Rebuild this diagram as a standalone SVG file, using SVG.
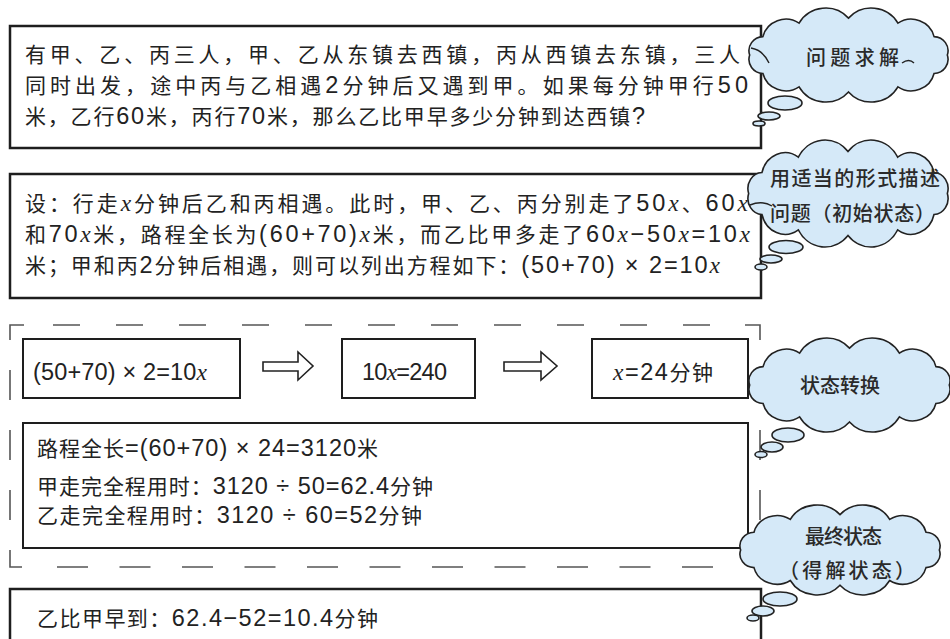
<svg xmlns="http://www.w3.org/2000/svg" width="950" height="639" viewBox="0 0 950 639">
<style>
.box{fill:#fff;stroke:#1e1e1e;stroke-width:2.5}
.ibox{fill:#fff;stroke:#1e1e1e;stroke-width:2}
.t{font-family:"Liberation Sans","Noto Sans CJK SC",sans-serif;font-size:21px;fill:#222}
.n{font-size:23.5px}
.x{font-family:"Liberation Serif",serif;font-style:italic;font-size:23.5px}
.cl{fill:#d5e9f8;stroke:#222;stroke-width:1.6}
.ct{font-family:"Noto Sans CJK SC",sans-serif;font-size:20px;font-weight:500;fill:#2a2a2a}
.dash{fill:none;stroke:#555;stroke-width:1.6}
.arr{fill:#fff;stroke:#222;stroke-width:1.6}
.hook{fill:none;stroke:#222;stroke-width:1.4}
</style>
<defs>
<path id="cloud" vector-effect="non-scaling-stroke" d="M12,45 A13,13 0 0 1 23.8,28 A21,21 0 0 1 56,15.6 A27,27 0 0 1 100,11 A27,27 0 0 1 144,15.6 A21,21 0 0 1 176.2,28 A13,13 0 0 1 188,45 A13,13 0 0 1 176.2,62 A21,21 0 0 1 144,74.4 A27,27 0 0 1 100,79 A27,27 0 0 1 56,74.4 A21,21 0 0 1 23.8,62 A13,13 0 0 1 12,45 Z"/>
</defs>
<rect width="950" height="639" fill="#fff"/>

<g id="problem">
<rect class="box" x="10" y="26" width="751" height="122"/>
<text class="t" x="25" y="62" textLength="715" lengthAdjust="spacing">有甲、乙、丙三人，甲、乙从东镇去西镇，丙从西镇去东镇，三人</text>
<text class="t" x="25" y="93" textLength="723" lengthAdjust="spacing">同时出发，途中丙与乙相遇<tspan class="n">2</tspan>分钟后又遇到甲。如果每分钟甲行<tspan class="n">50</tspan></text>
<text class="t" x="25" y="124" textLength="620" lengthAdjust="spacing">米，乙行<tspan class="n">60</tspan>米，丙行<tspan class="n">70</tspan>米，那么乙比甲早多少分钟到达西镇<tspan class="n">?</tspan></text>
</g>

<g id="setup">
<rect class="box" x="10" y="174" width="751" height="124"/>
<text class="t" x="25" y="210.5" textLength="723" lengthAdjust="spacing">设：行走<tspan class="x">x</tspan>分钟后乙和丙相遇。此时，甲、乙、丙分别走了<tspan class="n">50</tspan><tspan class="x">x</tspan>、<tspan class="n">60</tspan><tspan class="x">x</tspan></text>
<text class="t" x="25" y="242" textLength="725" lengthAdjust="spacing">和<tspan class="n">70</tspan><tspan class="x">x</tspan>米，路程全长为<tspan class="n">(60+70)</tspan><tspan class="x">x</tspan>米，而乙比甲多走了<tspan class="n">60</tspan><tspan class="x">x</tspan><tspan class="n">−50</tspan><tspan class="x">x</tspan><tspan class="n">=10</tspan><tspan class="x">x</tspan></text>
<text class="t" x="25" y="273" textLength="695" lengthAdjust="spacing">米；甲和丙<tspan class="n">2</tspan>分钟后相遇，则可以列出方程如下：<tspan class="n">(50+70) × 2=10</tspan><tspan class="x">x</tspan></text>
</g>

<g id="frame">
<path class="dash" d="M10,340 V325 H24"/>
<line class="dash" x1="53" y1="325" x2="745" y2="325" stroke-dasharray="27 36"/>
<path class="dash" d="M745,325 H760 V340"/>
<line class="dash" x1="10" y1="370" x2="10" y2="555" stroke-dasharray="30 30"/>
<path class="dash" d="M10,555 V567 H22"/>
<line class="dash" x1="57" y1="567" x2="740" y2="567" stroke-dasharray="31 31.5"/>
<line class="dash" x1="760" y1="370" x2="760" y2="530" stroke-dasharray="30 30"/>
</g>

<g id="eq1">
<rect class="ibox" x="23" y="339" width="217" height="59"/>
<text class="t" x="33" y="379.5" textLength="174" lengthAdjust="spacing"><tspan class="n">(50+70) × 2=10</tspan><tspan class="x">x</tspan></text>
</g>
<g id="eq2">
<rect class="ibox" x="342" y="339" width="133" height="59"/>
<text class="t" x="362" y="379.5" textLength="85" lengthAdjust="spacing"><tspan class="n">10</tspan><tspan class="x">x</tspan><tspan class="n">=240</tspan></text>
</g>
<g id="eq3">
<rect class="ibox" x="592" y="339" width="156" height="59"/>
<text class="t" x="613" y="379.5" textLength="100" lengthAdjust="spacing"><tspan class="x">x</tspan><tspan class="n">=24</tspan>分钟</text>
</g>

<g id="calc">
<rect class="ibox" x="23" y="423" width="725" height="125"/>
<text class="t" x="37" y="456" textLength="341" lengthAdjust="spacing">路程全长<tspan class="n">=(60+70)  × 24=3120</tspan>米</text>
<text class="t" x="37" y="494" textLength="396" lengthAdjust="spacing">甲走完全程用时：<tspan class="n">3120 ÷ 50=62.4</tspan>分钟</text>
<text class="t" x="37" y="523" textLength="385" lengthAdjust="spacing">乙走完全程用时：<tspan class="n">3120 ÷ 60=52</tspan>分钟</text>
</g>

<g id="answer">
<rect class="box" x="10" y="589" width="751" height="80"/>
<text class="t" x="37" y="626" textLength="341" lengthAdjust="spacing">乙比甲早到：<tspan class="n">62.4−52=10.4</tspan>分钟</text>
</g>

<g id="connectors">
<path class="arr" d="M263,362 H298 V352 L313,366 L298,380 V371 H263 Z"/>
<path class="arr" d="M504,362 H541 V352 L557,366 L541,380 V371 H504 Z"/>
</g>

<g id="cloud1">
<use href="#cloud" class="cl" transform="translate(736.2,6.2) scale(1.123,1.085)"/>
<ellipse class="cl" cx="785" cy="103" rx="17" ry="7"/>
<ellipse class="cl" cx="769" cy="116" rx="11" ry="4"/>
<ellipse class="cl" cx="759" cy="123.5" rx="6" ry="2.5"/>
<path class="hook" d="M751,48 Q763,50 769,63"/>
<path class="hook" d="M902,63 Q909,58 914,63"/>
<text class="ct" x="806" y="64.6" textLength="93" lengthAdjust="spacing">问题求解</text>
</g>

<g id="cloud2">
<use href="#cloud" class="cl" transform="translate(735.1,137.9) scale(1.129,1.236)"/>
<ellipse class="cl" cx="786" cy="247" rx="17" ry="6.5"/>
<ellipse class="cl" cx="771" cy="259" rx="11" ry="4"/>
<ellipse class="cl" cx="761" cy="267" rx="6" ry="3"/>
<path class="hook" d="M750,205 Q762,200 772,206"/>
<text class="ct" x="770" y="186" textLength="170" lengthAdjust="spacing">用适当的形式描述</text>
<text class="ct" x="770" y="221" textLength="165" lengthAdjust="spacing">问题（初始状态）</text>
</g>

<g id="cloud3">
<use href="#cloud" class="cl" transform="translate(736.1,336.2) scale(1.134,1.085)"/>
<ellipse class="cl" cx="788" cy="435" rx="16" ry="7"/>
<ellipse class="cl" cx="772" cy="447" rx="11" ry="5"/>
<ellipse class="cl" cx="761" cy="454.5" rx="6" ry="3"/>
<text class="ct" x="800" y="392.6" textLength="80" lengthAdjust="spacing">状态转换</text>
</g>

<g id="cloud4">
<use href="#cloud" class="cl" transform="translate(727.1,503.2) scale(1.129,1.039)"/>
<ellipse class="cl" cx="780" cy="599" rx="17" ry="7"/>
<ellipse class="cl" cx="763" cy="611" rx="11" ry="5"/>
<ellipse class="cl" cx="753" cy="618" rx="6" ry="3"/>
<text class="ct" x="805" y="543.6" textLength="77" lengthAdjust="spacing">最终状态</text>
<text class="ct" x="779" y="577.6" textLength="136" lengthAdjust="spacing">（得解状态）</text>
</g>
</svg>
